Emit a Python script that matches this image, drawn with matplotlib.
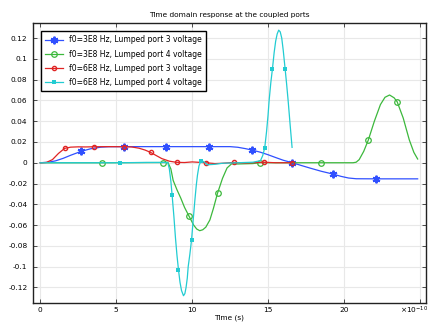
import numpy as np
import matplotlib
matplotlib.use("Agg")
import matplotlib.pyplot as plt

plt.rcParams['font.family'] = ['DejaVu Sans']
plt.rcParams['axes.unicode_minus'] = False

# time in units of 1e-10 s
blue_t = [0, 0.5, 1.0, 1.5, 2.0, 2.7, 3.3, 4.0, 4.5, 5.5, 8.3, 11.1, 12.5, 13.0, 13.5, 13.95,
          14.5, 15.0, 15.5, 16.0, 16.6, 17.2, 17.8, 18.5, 19.3, 19.8, 20.3, 20.8, 22.1, 24.85]
blue_y = [0, 0.0004, 0.0018, 0.0042, 0.0072, 0.011, 0.0134, 0.015, 0.0154, 0.0155, 0.0155, 0.0155,
          0.0155, 0.0149, 0.0136, 0.0122, 0.0101, 0.0077, 0.005, 0.0024, 0.0, -0.0027, -0.0053,
          -0.0082, -0.011, -0.0131, -0.0147, -0.0154, -0.0155, -0.0155]
blue_marks = [2.7, 5.5, 8.3, 11.1, 13.95, 16.6, 19.3, 22.1]

green_t = [0, 4.08, 8.05, 8.4, 8.6, 8.75, 9.0, 9.25, 9.5, 9.78, 10.1, 10.3, 10.5, 10.7, 10.9,
           11.17, 11.4, 11.67, 12.0, 12.3, 12.6, 13.0, 14.0, 14.45, 18.5, 20.6, 20.8, 21.0, 21.3,
           21.6, 22.0, 22.4, 22.7, 23.0, 23.3, 23.5, 23.9, 24.3, 24.6, 24.85]
green_y = [0, 0, 0.0002, 0.0005, -0.006, -0.017, -0.026, -0.034, -0.043, -0.051, -0.060, -0.0638,
           -0.0654, -0.0645, -0.062, -0.055, -0.044, -0.0294, -0.015, -0.005, -0.001, -0.0012,
           -0.0008, 0.0, 0.0, 0.0, 0.0005, 0.003, 0.011, 0.0218, 0.040, 0.056, 0.063, 0.0652,
           0.0625, 0.0587, 0.043, 0.022, 0.010, 0.0036]
green_marks = [4.08, 8.05, 9.78, 11.67, 14.45, 18.5, 21.6, 23.5]

red_t = [0, 0.4, 0.8, 1.2, 1.6, 2.0, 2.5, 3.0, 3.55, 4.5, 5.5, 6.0, 6.5, 6.9, 7.26, 7.6, 8.0, 8.5,
         8.97, 9.5, 10.0, 10.9, 11.5, 12.0, 12.76, 13.5, 14.7, 15.5, 16.6]
red_y = [0, 0.0003, 0.003, 0.009, 0.0138, 0.015, 0.0153, 0.0152, 0.0154, 0.0155, 0.0154, 0.0152,
         0.014, 0.0122, 0.010, 0.0072, 0.004, 0.0015, 0.0004, 0.0002, 0.0008, 0.0, -0.0008,
         -0.0005, 0.0003, -0.0003, 0.0005, 0.0, 0.0]
red_marks = [1.6, 3.55, 5.5, 7.26, 8.97, 10.9, 12.76, 14.7, 16.6]

cyan_t = [0, 5.25, 7.0, 8.0, 8.4, 8.5, 8.6, 8.68, 8.8, 8.9, 9.0, 9.1, 9.2, 9.3, 9.43, 9.52, 9.6,
          9.68, 9.74, 9.85, 9.96, 10.07, 10.18, 10.27, 10.35, 10.45, 10.57, 10.65, 10.85, 11.0,
          11.5, 12.0, 13.0, 14.0, 14.5, 14.65, 14.78, 14.9, 15.0, 15.07, 15.18, 15.29, 15.4,
          15.5, 15.6, 15.7, 15.8, 15.9, 16.0, 16.12, 16.22, 16.32, 16.45, 16.58]
cyan_y = [0, 0, 0.0003, 0.0003, 0.0, -0.006, -0.018, -0.031, -0.052, -0.072, -0.089, -0.103,
          -0.115, -0.123, -0.128, -0.126, -0.12, -0.111, -0.1, -0.088, -0.0743, -0.055, -0.036,
          -0.022, -0.012, -0.003, 0.0016, 0.002, 0.0, -0.002, -0.0015, -0.0005, 0.0, 0.0005,
          0.002, 0.007, 0.0144, 0.03, 0.046, 0.060, 0.077, 0.0907, 0.106, 0.117, 0.124, 0.1276,
          0.126, 0.12, 0.108, 0.0907, 0.076, 0.060, 0.037, 0.0148]
cyan_marks = [5.25, 8.68, 9.1, 9.96, 10.57, 14.78, 15.29, 16.12]

labels = ["f0=3E8 Hz, Lumped port 3 voltage",
          "f0=3E8 Hz, Lumped port 4 voltage",
          "f0=6E8 Hz, Lumped port 3 voltage",
          "f0=6E8 Hz, Lumped port 4 voltage"]
xticks = [0, 5, 10, 15, 20, 25]
xticklabels = ["0", "5", "10", "15", "20", ""]
yticks = [-0.12, -0.1, -0.08, -0.06, -0.04, -0.02, 0, 0.02, 0.04, 0.06, 0.08, 0.1, 0.12]


def idx(ts, marks):
    return [i for i, t in enumerate(ts) if t in marks]


fig = plt.figure(figsize=(4.39, 3.24), dpi=100)
ax = fig.add_axes([33/439, 1-303/324, 393/439, 280/324])

fs = 5.3
ax.plot(blue_t, blue_y, color='#3050ff', lw=0.9, marker=(6, 2, 0), ms=5.5, mew=1.4,
        markevery=idx(blue_t, blue_marks), label=labels[0])
ax.plot(green_t, green_y, color='#3cb83c', lw=0.9, marker='o', ms=4, mfc='none', mew=0.9,
        markevery=idx(green_t, green_marks), label=labels[1])
ax.plot(red_t, red_y, color='#e02424', lw=0.9, marker='o', ms=3, mfc='none', mew=1.0,
        markevery=idx(red_t, red_marks), label=labels[2])
ax.plot(cyan_t, cyan_y, color='#22ccd2', lw=0.9, marker='s', ms=3, mew=0,
        markevery=idx(cyan_t, cyan_marks), label=labels[3])

ax.set_xlim(-0.48, 25.4)
ax.set_ylim(-0.135, 0.1345)
ax.set_xticks(xticks)
ax.set_xticklabels(xticklabels)
ax.set_yticks(yticks)
ax.set_yticklabels(['%g' % v for v in yticks])
ax.tick_params(direction='in', top=True, right=True, labelsize=fs, length=3, width=0.6,
               colors='#333333', labelcolor='black')
ax.tick_params(axis='y', pad=4)
ax.tick_params(axis='x', pad=3)
ax.grid(True, color='#e8e8e8', lw=0.8)
ax.set_axisbelow(True)
for s in ax.spines.values():
    s.set_linewidth(1.0)
    s.set_color('#222222')

ax.set_title("Time domain response at the coupled ports", fontsize=fs, pad=4)
ax.set_xlabel("Time (s)", fontsize=fs, labelpad=1)
ax.text(1.005, -0.028, r"$\times10^{-10}$", transform=ax.transAxes, ha='right', va='center',
        fontsize=fs)

leg = ax.legend(loc='upper left', bbox_to_anchor=(0.0196, 0.971), borderaxespad=0,
                fontsize=5.5, fancybox=False, edgecolor='black', framealpha=1,
                handlelength=2.4, handletextpad=0.8, labelspacing=0.68, borderpad=0.55)
leg.get_frame().set_linewidth(1.0)

fig.savefig("out.png", dpi=100)
